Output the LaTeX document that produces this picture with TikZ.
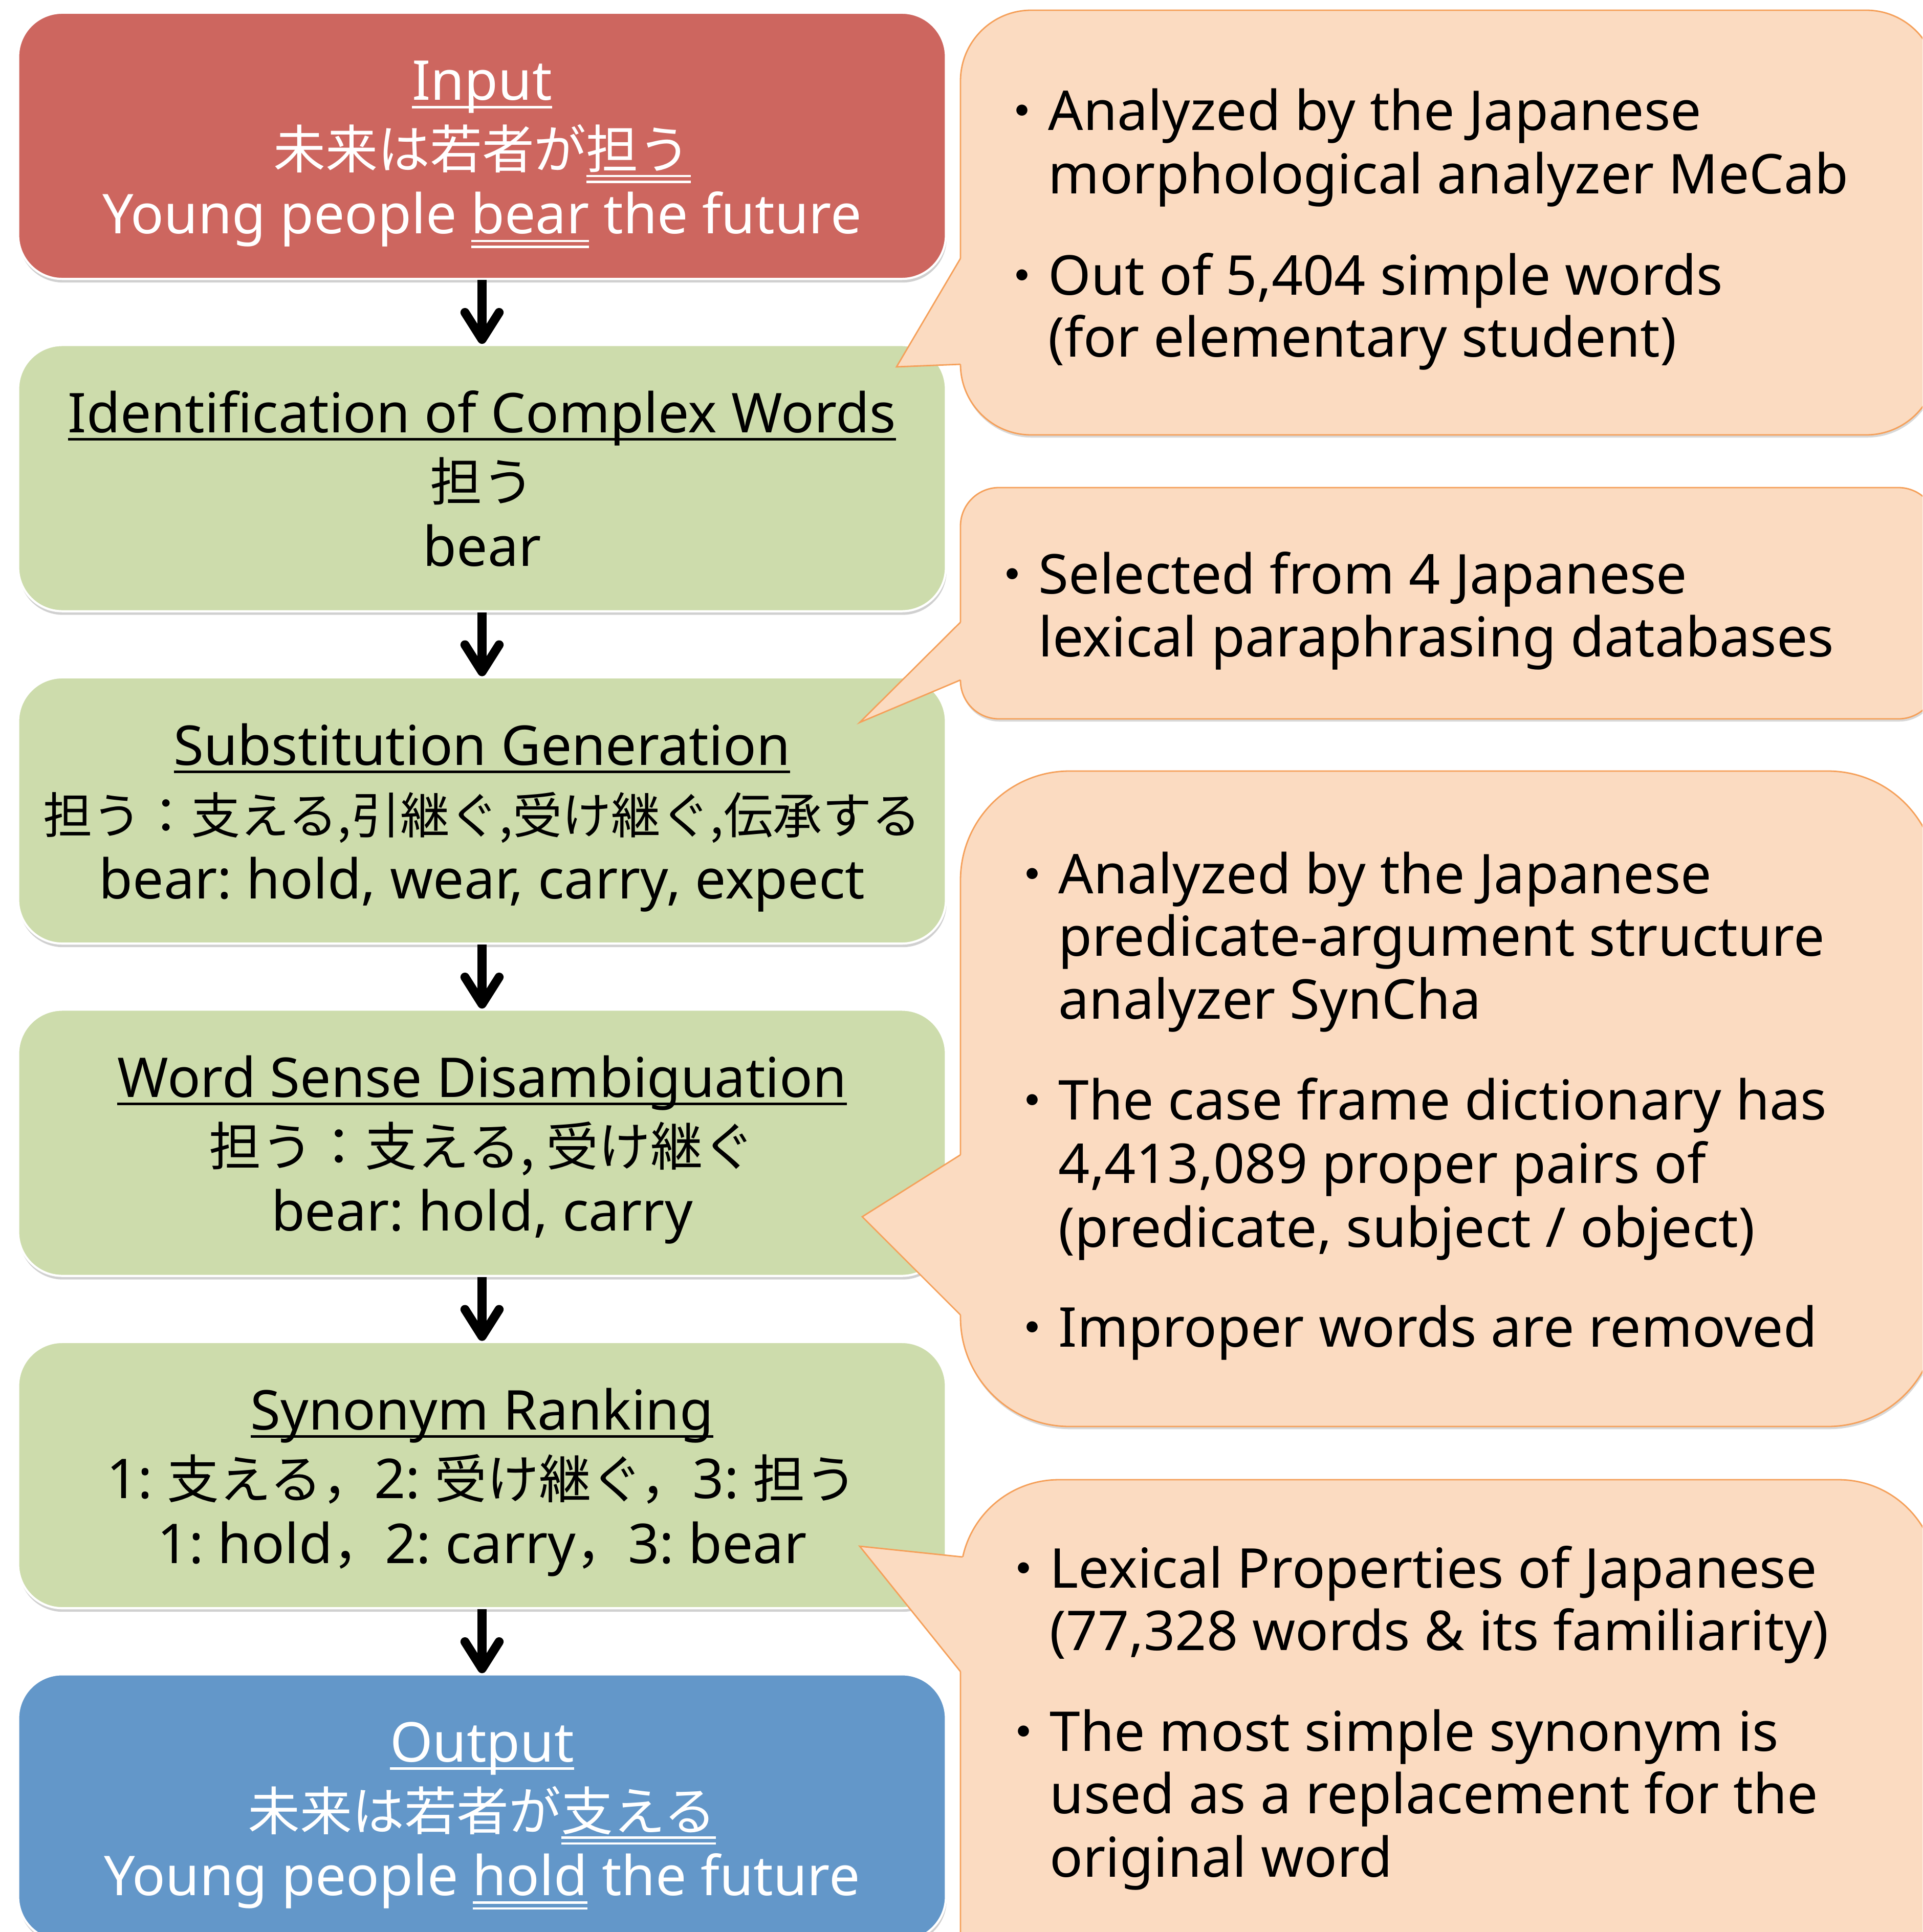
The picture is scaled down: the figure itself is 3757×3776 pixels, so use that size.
\documentclass[tikz,border=0pt]{standalone}
\usepackage{fontspec}
\setmainfont{Noto Sans}
\newfontfamily\jpfont{Noto Sans CJK JP}
\usetikzlibrary{arrows.meta,shadows}
\definecolor{inred}{HTML}{CD665F}
\definecolor{stepgreen}{HTML}{CDDCAC}
\definecolor{outblue}{HTML}{6397C9}
\definecolor{notefill}{HTML}{FBDBC1}
\definecolor{noteedge}{HTML}{F5A05A}
\frenchspacing
\newcommand\jp[1]{{\jpfont\fontsize{29pt}{36pt}\selectfont #1}}
\newcommand\jpsmall[1]{{\jpfont\fontsize{27.4pt}{36pt}\selectfont #1}}
\newcommand\sul[1]{\leavevmode\vtop{\setbox0\hbox{#1}\dp0=0pt \copy0 \kern3pt\hrule height1.5pt}}
\newcommand\dul[1]{\leavevmode\vtop{\setbox0\hbox{#1}\dp0=0pt \copy0 \kern3.3pt\hrule height1.3pt\kern2pt\hrule height1.3pt}}
\tikzset{
  stepbox/.style={draw=white, line width=1.2pt, rounded corners=0.86cm,
    minimum width=18.12cm, minimum height=5.2cm, inner sep=0pt,
    drop shadow={shadow xshift=0.4pt, shadow yshift=-2pt, opacity=0.3, fill=black!60}},
  boxline/.style={anchor=base, inner sep=0pt, font=\fontsize{30.5pt}{36pt}\selectfont\frenchspacing},
  notetxt/.style={anchor=base west, inner sep=0pt, font=\fontsize{30.5pt}{36pt}\selectfont\frenchspacing},
  notebody/.style={fill=notefill, draw=noteedge, line width=0.8pt,
    drop shadow={shadow xshift=0.4pt, shadow yshift=-1.5pt, opacity=0.25, fill=black!60}},
  pointeredge/.style={draw=noteedge, line width=0.8pt},
  flowarrow/.style={line width=5pt, -{Straight Barb[length=15pt, width=19pt, round]}},
}
\begin{document}
\begin{tikzpicture}[x=0.01cm, y=-0.01cm]
\useasboundingbox (0,0) rectangle (3757,3776);
\clip (0,0) rectangle (3757,3776);
\fill[white] (0,0) rectangle (3757,3776);

% process boxes
\node[stepbox, fill=inred] (b1) at (942,285) {};
\node[stepbox, fill=stepgreen] (b2) at (942,934.5) {};
\node[stepbox, fill=stepgreen] (b3) at (942,1584) {};
\node[stepbox, fill=stepgreen] (b4) at (942,2233.5) {};
\node[stepbox, fill=stepgreen] (b5) at (942,2883) {};
\node[stepbox, fill=outblue] (b6) at (942,3532.5) {};

% arrows
\foreach \a/\b in {b1/b2,b2/b3,b3/b4,b4/b5,b5/b6}
  \draw[flowarrow] (\a.south) -- (\b.north);

% box texts
\node[boxline, text=white] (t1a) at (942,196) {\sul{Input}};
\node[boxline, text=white] (t1b) at (942,330) {\jp{未来は若者が\dul{担う}}};
\node[boxline, text=white] (t1c) at (942,457) {Young people \dul{bear} the future};

\node[boxline] (t2a) at (942,845.5) {\sul{Identification of Complex Words}};
\node[boxline] (t2b) at (942,979.5) {\jp{担う}};
\node[boxline] (t2c) at (942,1106.5) {bear};

\node[boxline] (t3a) at (942,1495) {\sul{Substitution Generation}};
\node[boxline] (t3b) at (942,1629) {\jpsmall{担う：支える,引継ぐ,受け継ぐ,伝承する}};
\node[boxline] (t3c) at (942,1756) {bear: hold, wear, carry, expect};

\node[boxline] (t4a) at (942,2144.5) {\sul{Word Sense Disambiguation}};
\node[boxline] (t4b) at (942,2278.5) {\jp{担う：支える, 受け継ぐ}};
\node[boxline] (t4c) at (942,2405.5) {bear: hold, carry};

\node[boxline] (t5a) at (942,2794) {\sul{Synonym Ranking}};
\node[boxline] (t5b) at (942,2928) {1: \jp{支える，}2: \jp{受け継ぐ，}3: \jp{担う}};
\node[boxline] (t5c) at (942,3055) {1: hold\jp{，}2: carry\jp{，}3: bear};

\node[boxline, text=white] (t6a) at (942,3443.5) {\sul{Output}};
\node[boxline, text=white] (t6b) at (942,3577.5) {\jp{未来は若者が\dul{支える}}};
\node[boxline, text=white] (t6c) at (942,3704.5) {Young people \dul{hold} the future};

% callout 1
\draw[notebody, rounded corners=1.38cm] (1877,20) rectangle (3785,850);
\fill[notefill] (1752,717) -- (1877,505) -- (1886,505) -- (1886,712) -- (1877,712) -- cycle;
\draw[pointeredge] (1877,505) -- (1752,717) -- (1877,712);
\node[notetxt] (n1a) at (2048,255) {\llap{\jp{・}}Analyzed by the Japanese};
\node[notetxt] (n1b) at (2048,379) {morphological analyzer MeCab};
\node[notetxt] (n1c) at (2048,576) {\llap{\jp{・}}Out of 5,404 simple words};
\node[notetxt] (n1d) at (2048,697) {(for elementary student)};

% callout 2
\draw[notebody, rounded corners=0.75cm] (1877,953) rectangle (3785,1405);
\fill[notefill] (1680,1412) -- (1877,1216) -- (1886,1216) -- (1886,1329) -- (1877,1329) -- cycle;
\draw[pointeredge] (1877,1216) -- (1680,1412) -- (1877,1329);
\node[notetxt] (n2a) at (2029,1160) {\llap{\jp{・}}Selected from 4 Japanese};
\node[notetxt] (n2b) at (2029,1283) {lexical paraphrasing databases};

% callout 3
\draw[notebody, rounded corners=2.13cm] (1877,1507) rectangle (3785,2788);
\fill[notefill] (1685,2378) -- (1877,2257) -- (1886,2257) -- (1886,2570) -- (1877,2570) -- cycle;
\draw[pointeredge] (1877,2257) -- (1685,2378) -- (1877,2570);
\node[notetxt] (n3a) at (2068,1746) {\llap{\jp{・}}Analyzed by the Japanese};
\node[notetxt] (n3b) at (2068,1868) {predicate-argument structure};
\node[notetxt] (n3c) at (2068,1991) {analyzer SynCha};
\node[notetxt] (n3d) at (2068,2188) {\llap{\jp{・}}The case frame dictionary has};
\node[notetxt] (n3e) at (2068,2312) {4,413,089 proper pairs of};
\node[notetxt] (n3f) at (2068,2437) {(predicate, subject / object)};
\node[notetxt] (n3g) at (2068,2632) {\llap{\jp{・}}Improper words are removed};

% callout 4
\draw[notebody, rounded corners=1.92cm] (1877,2892) rectangle (3785,4040);
\fill[notefill] (1680,3022) -- (1881,3043) -- (1890,3043) -- (1890,3267) -- (1877,3267) -- cycle;
\draw[pointeredge] (1881,3043) -- (1680,3022) -- (1877,3267);
\node[notetxt] (n4a) at (2051,3103) {\llap{\jp{・}}Lexical Properties of Japanese};
\node[notetxt] (n4b) at (2051,3225) {(77,328 words \& its familiarity)};
\node[notetxt] (n4c) at (2051,3422) {\llap{\jp{・}}The most simple synonym is};
\node[notetxt] (n4d) at (2051,3544) {used as a replacement for the};
\node[notetxt] (n4e) at (2051,3668) {original word};
\end{tikzpicture}
\end{document}
